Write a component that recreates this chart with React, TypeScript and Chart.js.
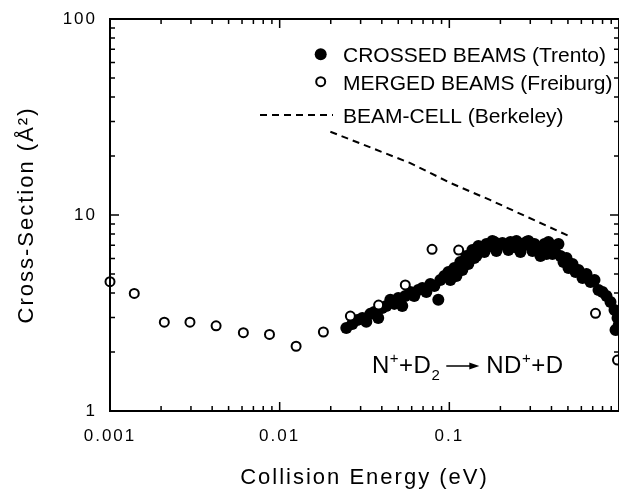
import React, { useEffect, useRef } from 'react';
import { Chart, registerables } from 'chart.js';

Chart.register(...registerables);

const FONT = '"Liberation Sans", Arial, Helvetica, sans-serif';

// Crossed beams (Trento), filled circles
const CROSSED_E = [
  0.0247, 0.0268, 0.0287, 0.0307, 0.0324, 0.0342, 0.0361, 0.0381, 0.0402, 0.0425,
  0.0449, 0.0474, 0.05, 0.0528, 0.055, 0.0589, 0.0621, 0.0656, 0.0693, 0.0732,
  0.0773, 0.0816, 0.0861, 0.0885, 0.0934, 0.0987, 0.1014, 0.107, 0.11, 0.1161,
  0.1193, 0.126, 0.1294, 0.1367, 0.1404, 0.1483, 0.1566, 0.1653, 0.1745, 0.1793,
  0.1843, 0.1946, 0.2055, 0.2169, 0.2291, 0.2419, 0.2486, 0.2554, 0.2696, 0.2847,
  0.2925, 0.3006, 0.3175, 0.3352, 0.3444, 0.3636, 0.3737, 0.3839, 0.3945, 0.4165,
  0.4398, 0.4519, 0.4707, 0.4903, 0.5038, 0.532, 0.5541, 0.5771, 0.6094, 0.6434,
  0.6793, 0.7172, 0.7572, 0.7996, 0.8442, 0.8913, 0.941, 0.954, 0.9802, 0.9934,
  0.1609, 0.1894, 0.2229, 0.2624, 0.3089, 0.4054, 0.1443,
];
const CROSSED_S = [
  2.65, 2.78, 2.91, 2.98, 2.85, 3.13, 3.2, 2.98, 3.35, 3.43,
  3.69, 3.52, 3.77, 3.43, 3.86, 4.05, 3.86, 4.14, 4.24, 4.05,
  4.45, 4.34, 3.69, 4.66, 4.88, 5.12, 4.66, 5.37, 4.88, 5.76,
  5.24, 6.18, 5.62, 6.63, 6.03, 6.95, 6.63, 7.11, 6.95, 7.37,
  7.28, 6.95, 7.2, 7.03, 7.28, 6.87, 7.37, 7.2, 7.03, 7.28,
  7.37, 6.95, 7.11, 6.63, 6.18, 7.11, 6.32, 7.28, 6.95, 6.63,
  7.11, 6.18, 5.76, 6.03, 5.37, 5.62, 5.12, 5.24, 4.77, 5.0,
  4.55, 4.66, 4.14, 4.05, 3.86, 3.6, 3.28, 2.59, 2.98, 2.72,
  6.47, 6.55, 6.63, 6.47, 6.55, 6.32, 6.18,
];

// Merged beams (Freiburg), open circles
const MERGED_E = [0.001, 0.00139, 0.00209, 0.00296, 0.00422, 0.00611, 0.00871, 0.0125, 0.0181, 0.0261, 0.0383, 0.055, 0.0791, 0.1135, 0.727, 0.98];
const MERGED_S = [4.57, 3.98, 2.84, 2.84, 2.72, 2.51, 2.46, 2.14, 2.53, 3.05, 3.47, 4.4, 6.68, 6.62, 3.15, 1.82];

// Beam-cell (Berkeley), dashed line
const CELL_E = [0.0199, 0.0589, 0.101, 0.175, 0.517];
const CELL_S = [26.6, 18.4, 14.6, 11.9, 7.75];

const X_MIN = 0.001;
const X_MAX = 1;
const Y_MIN = 1;
const Y_MAX = 100;
const X_TICKS = [0.001, 0.01, 0.1];
const X_TICK_LABELS = ['0.001', '0.01', '0.1'];
const Y_TICKS = [1, 10, 100];
const Y_TICK_LABELS = ['1', '10', '100'];
const MINOR_MULT = [1, 2, 3, 4, 5, 6, 7, 8, 9];

const X_TITLE = 'Collision Energy (eV)';
const Y_TITLE = 'Cross-Section (Å²)';
const LEGEND_LABELS = ['CROSSED BEAMS (Trento)', 'MERGED BEAMS (Freiburg)', 'BEAM-CELL (Berkeley)'];
const REACTION_LEFT: [string, string][] = [['N', 'n'], ['+', 'sup'], ['+D', 'n'], ['2', 'sub']];
const REACTION_RIGHT: [string, string][] = [['ND', 'n'], ['+', 'sup'], ['+D', 'n']];

function drawRich(ctx: CanvasRenderingContext2D, parts: [string, string][], x: number, base: number, size: number) {
  for (const [t, k] of parts) {
    const s = k === 'n' ? size : Math.round(size * 0.62);
    ctx.font = `${s}px ${FONT}`;
    const dy = k === 'sup' ? -size * 0.42 : k === 'sub' ? size * 0.3 : 0;
    ctx.fillText(t, x, base + dy);
    x += ctx.measureText(t).width;
  }
  return x;
}

function zeroPad(s: any) {
  s.paddingTop = 0;
  s.paddingBottom = 0;
  s.paddingLeft = 0;
  s.paddingRight = 0;
}

const framePlugin = {
  id: 'frameAndAnnotations',
  beforeDraw(chart: any) {
    chart.ctx.letterSpacing = '2px';
  },
  afterDatasetsDraw(chart: any) {
    const { ctx, chartArea: a, scales } = chart;
    const x = scales.x;
    const y = scales.y;
    ctx.save();
    ctx.strokeStyle = '#000';
    ctx.lineWidth = 2;
    ctx.strokeRect(a.left, a.top, a.right - a.left, a.bottom - a.top);
    ctx.lineWidth = 1.5;
    ctx.beginPath();
    for (const d of X_TICKS) {
      for (const m of MINOR_MULT) {
        const v = d * m;
        if (v > X_MAX) continue;
        const px = x.getPixelForValue(v);
        const len = m === 1 ? 9 : 5;
        ctx.moveTo(px, a.bottom);
        ctx.lineTo(px, a.bottom - len);
        ctx.moveTo(px, a.top);
        ctx.lineTo(px, a.top + len);
      }
    }
    for (const d of Y_TICKS) {
      for (const m of MINOR_MULT) {
        const v = d * m;
        if (v > Y_MAX) continue;
        const py = y.getPixelForValue(v);
        const len = m === 1 ? 9 : 5;
        ctx.moveTo(a.left, py);
        ctx.lineTo(a.left + len, py);
        ctx.moveTo(a.right, py);
        ctx.lineTo(a.right - len, py);
      }
    }
    ctx.stroke();
    ctx.restore();
  },
  afterDraw(chart: any) {
    const ctx: CanvasRenderingContext2D = chart.ctx;
    ctx.save();
    (ctx as any).letterSpacing = '0px';
    ctx.fillStyle = '#000';
    ctx.strokeStyle = '#000';
    ctx.textAlign = 'left';
    ctx.textBaseline = 'alphabetic';
    // legend symbols
    ctx.beginPath();
    ctx.arc(320.7, 54.2, 6, 0, Math.PI * 2);
    ctx.fill();
    ctx.beginPath();
    ctx.lineWidth = 2;
    ctx.arc(320.7, 81.7, 4.5, 0, Math.PI * 2);
    ctx.stroke();
    ctx.beginPath();
    ctx.setLineDash([7, 5]);
    ctx.moveTo(260, 115);
    ctx.lineTo(333, 115);
    ctx.stroke();
    ctx.setLineDash([]);
    // legend text
    ctx.font = `21px ${FONT}`;
    const baselines = [61.7, 90, 123];
    LEGEND_LABELS.forEach((t, i) => ctx.fillText(t, 343, baselines[i]));
    // reaction label
    (ctx as any).letterSpacing = '0.5px';
    const base = 373;
    const cx = drawRich(ctx, REACTION_LEFT, 372, base, 24);
    const ay = 366;
    ctx.lineWidth = 1.5;
    ctx.beginPath();
    ctx.moveTo(cx + 6, ay);
    ctx.lineTo(cx + 32, ay);
    ctx.stroke();
    ctx.beginPath();
    ctx.moveTo(cx + 39, ay);
    ctx.lineTo(cx + 29, ay - 3.5);
    ctx.lineTo(cx + 29, ay + 3.5);
    ctx.closePath();
    ctx.fill();
    drawRich(ctx, REACTION_RIGHT, cx + 46, base, 24);
    ctx.restore();
  },
};

export default function App() {
  const canvasRef = useRef<HTMLCanvasElement | null>(null);

  useEffect(() => {
    const canvas = canvasRef.current;
    if (!canvas) return;
    const chart = new Chart(canvas, {
      type: 'scatter',
      data: {
        datasets: [
          {
            label: LEGEND_LABELS[1],
            data: MERGED_E.map((e, i) => ({ x: e, y: MERGED_S[i] })),
            pointRadius: 4.5,
            pointBackgroundColor: '#fff',
            pointBorderColor: '#000',
            pointBorderWidth: 2,
            clip: false,
          } as any,
          {
            label: LEGEND_LABELS[0],
            data: CROSSED_E.map((e, i) => ({ x: e, y: CROSSED_S[i] })),
            pointRadius: 6,
            pointBackgroundColor: '#000',
            pointBorderColor: '#000',
            pointBorderWidth: 0,
            clip: false,
          } as any,
          {
            label: LEGEND_LABELS[2],
            data: CELL_E.map((e, i) => ({ x: e, y: CELL_S[i] })),
            showLine: true,
            borderColor: '#000',
            borderWidth: 2,
            borderDash: [7, 5],
            pointRadius: 0,
            fill: false,
          } as any,
        ],
      },
      options: {
        animation: false,
        responsive: false,
        devicePixelRatio: 1,
        events: [],
        layout: { autoPadding: false, padding: { top: 19, right: 0, left: 0, bottom: 0 } },
        plugins: { legend: { display: false }, tooltip: { enabled: false } },
        scales: {
          x: {
            type: 'logarithmic',
            position: 'bottom',
            min: X_MIN,
            max: X_MAX,
            afterBuildTicks: (s: any) => {
              s.ticks = X_TICKS.map((v) => ({ value: v }));
            },
            afterFit: (s: any) => {
              s.height = 78;
              zeroPad(s);
            },
            ticks: {
              autoSkip: false,
              maxRotation: 0,
              color: '#000',
              padding: 15,
              font: { family: FONT, size: 17 },
              callback: (_v: any, i: number) => X_TICK_LABELS[i],
            },
            grid: { display: false, drawTicks: false },
            border: { display: false },
            title: {
              display: true,
              text: X_TITLE,
              color: '#000',
              font: { family: FONT, size: 22, lineHeight: 1 },
              padding: { top: 0, bottom: 0 },
            },
          },
          y: {
            type: 'logarithmic',
            position: 'left',
            min: Y_MIN,
            max: Y_MAX,
            afterBuildTicks: (s: any) => {
              s.ticks = Y_TICKS.map((v) => ({ value: v }));
            },
            afterFit: (s: any) => {
              s.width = 110;
              zeroPad(s);
            },
            ticks: {
              autoSkip: false,
              color: '#000',
              padding: 13,
              font: { family: FONT, size: 17 },
              callback: (_v: any, i: number) => Y_TICK_LABELS[i],
            },
            grid: { display: false, drawTicks: false },
            border: { display: false },
            title: {
              display: true,
              text: Y_TITLE,
              color: '#000',
              font: { family: FONT, size: 22, lineHeight: 1 },
              padding: { top: 16, bottom: 0 },
            },
          },
        },
      } as any,
      plugins: [framePlugin],
    });
    return () => chart.destroy();
  }, []);

  return (
    <div style={{ position: 'absolute', left: 0, top: 0, width: 619, height: 489, background: '#fff' }}>
      <canvas ref={canvasRef} width={619} height={489} style={{ display: 'block' }} />
    </div>
  );
}
